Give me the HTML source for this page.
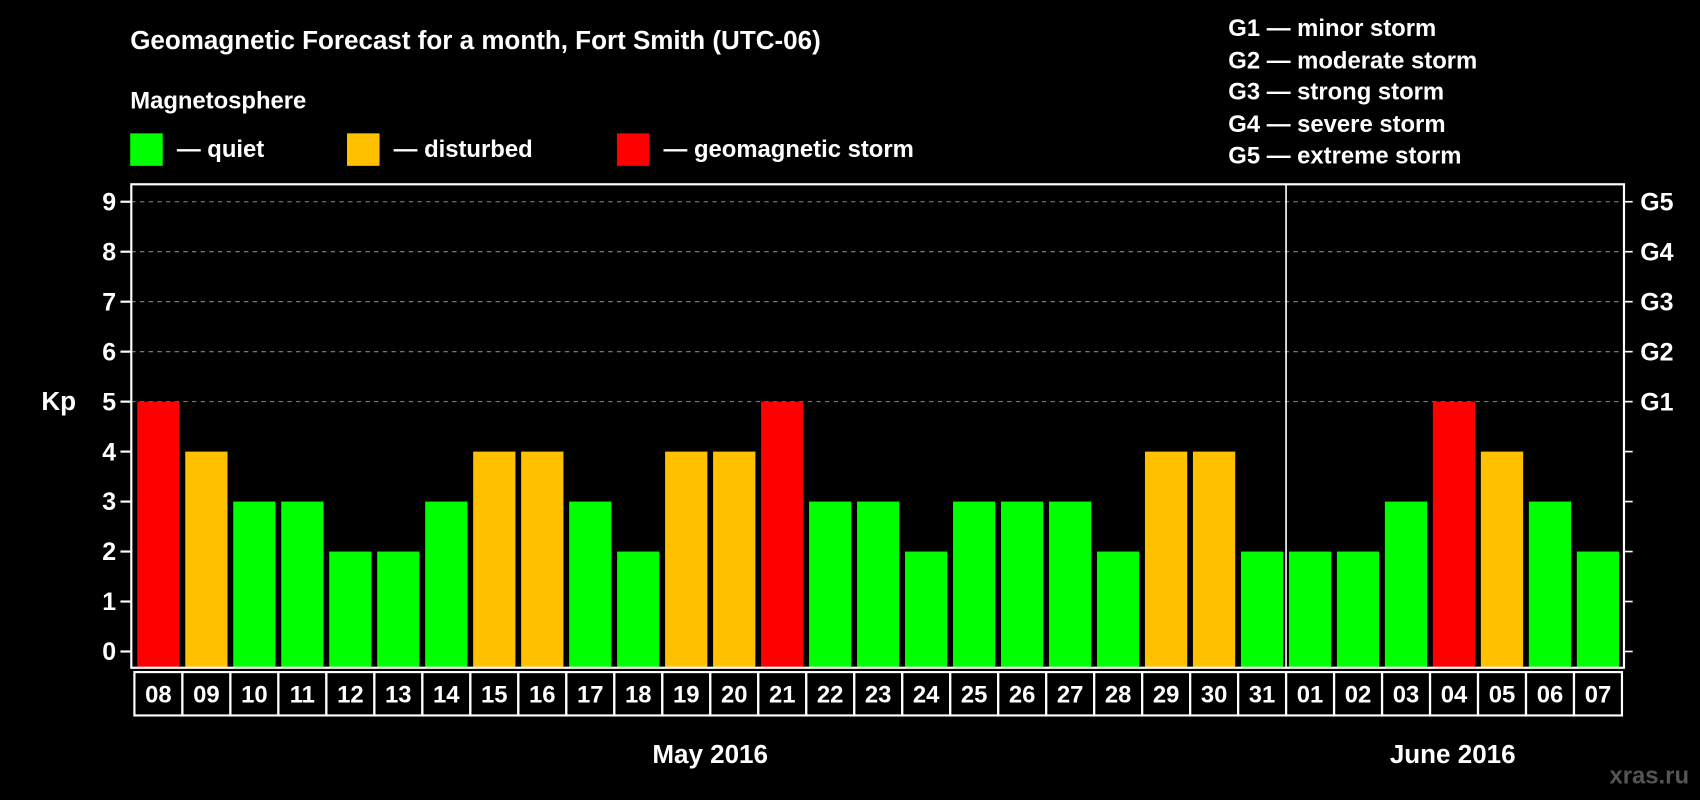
<!DOCTYPE html>
<html><head><meta charset="utf-8"><style>
html,body{margin:0;padding:0;background:#000;}
svg{display:block;font-family:"Liberation Sans",Arial,sans-serif;font-weight:bold;}
</style></head><body>
<svg id="chart" width="1700" height="800" viewBox="0 0 1568 738" xmlns="http://www.w3.org/2000/svg">
<rect width="1568" height="738" fill="#000"/>
<text x="120" y="45" fill="#fff" font-size="24">Geomagnetic Forecast for a month, Fort Smith (UTC-06)</text>
<text x="120" y="100" fill="#fff" font-size="22">Magnetosphere</text>
<g><rect x="120" y="123" width="30" height="30" fill="#00ff00"/><text x="163" y="145" fill="#fff" font-size="22">— quiet</text></g>
<g><rect x="320" y="123" width="30" height="30" fill="#ffc000"/><text x="363" y="145" fill="#fff" font-size="22">— disturbed</text></g>
<g><rect x="569" y="123" width="30" height="30" fill="#ff0000"/><text x="612" y="145" fill="#fff" font-size="22">— geomagnetic storm</text></g>
<g fill="#fff" font-size="22">
<text x="1133" y="33">G1 — minor storm</text>
<text x="1133" y="63">G2 — moderate storm</text>
<text x="1133" y="92">G3 — strong storm</text>
<text x="1133" y="122">G4 — severe storm</text>
<text x="1133" y="151">G5 — extreme storm</text>
</g>
<text x="38" y="378" fill="#fff" font-size="24">Kp</text>
<g id="plot"></g>
<text x="655" y="704" fill="#fff" font-size="24" text-anchor="middle">May 2016</text>
<text x="1340" y="704" fill="#fff" font-size="24" text-anchor="middle">June 2016</text>
<text x="1558" y="723" fill="#555" font-size="22" text-anchor="end">xras.ru</text>
</svg>
<script>
const days = ["08","09","10","11","12","13","14","15","16","17","18","19","20","21","22","23","24","25","26","27","28","29","30","31","01","02","03","04","05","06","07"];
const kpValues = [5,4,3,3,2,2,3,4,4,3,2,4,4,5,3,3,2,3,3,3,2,4,4,2,2,2,3,5,4,3,2];
const yTicks = [0,1,2,3,4,5,6,7,8,9];
const gLabels = ["G1","G2","G3","G4","G5"];
const gLevels = [5,6,7,8,9];
const monthBreakIndex = 24;

const NS="http://www.w3.org/2000/svg";
const plot=document.getElementById('plot');
const L=121,R=1498,T=170,B=616;
const y=v=>601-46.1*v;
const step=(1474-146)/30;
const xc=i=>146+i*step;
function mk(tag,attrs,parent){const e=document.createElementNS(NS,tag);for(const k in attrs)e.setAttribute(k,attrs[k]);(parent||plot).appendChild(e);return e;}
function color(v){return v>=5?"#ff0000":v>=4?"#ffc000":"#00ff00";}
gLevels.forEach((g,i)=>{
  const l=mk('line',{x1:L,x2:R,y1:y(g),y2:y(g),stroke:"#888","stroke-dasharray":"4,4","stroke-width":1});
  
  
  const t=mk('text',{x:1513,y:y(g)+8,fill:"#fff","font-size":23});
  t.textContent=gLabels[i];
  
  
});
kpValues.forEach((v,i)=>{
  const r=mk('rect',{x:xc(i)-19.5,y:y(v),width:39,height:B-y(v),fill:color(v)});
  
  
});
yTicks.forEach(v=>{
  mk('line',{x1:L-10,x2:L,y1:y(v),y2:y(v),stroke:"#fff","stroke-width":2});
  mk('line',{x1:R,x2:R+8,y1:y(v),y2:y(v),stroke:"#fff","stroke-width":1.5});
  const t=mk('text',{x:L-14,y:y(v)+8,fill:"#fff","font-size":23,"text-anchor":"end"});
  t.textContent=v;
  
  
});
const f=mk('rect',{x:L,y:T,width:R-L,height:B-T,fill:"none",stroke:"#fff","stroke-width":2});


const xb=(xc(monthBreakIndex-1)+xc(monthBreakIndex))/2;
const d=mk('line',{x1:xb,x2:xb,y1:T,y2:B,stroke:"#fff","stroke-width":1.5});


days.forEach((dd,i)=>{
  const c=mk('rect',{x:xc(i)-step/2,y:620,width:step,height:40,fill:"none",stroke:"#fff","stroke-width":2});
  
  
  const t=mk('text',{x:xc(i),y:648,fill:"#fff","font-size":22,"text-anchor":"middle"});
  t.textContent=dd;
  
  
});
</script>
</body></html>
